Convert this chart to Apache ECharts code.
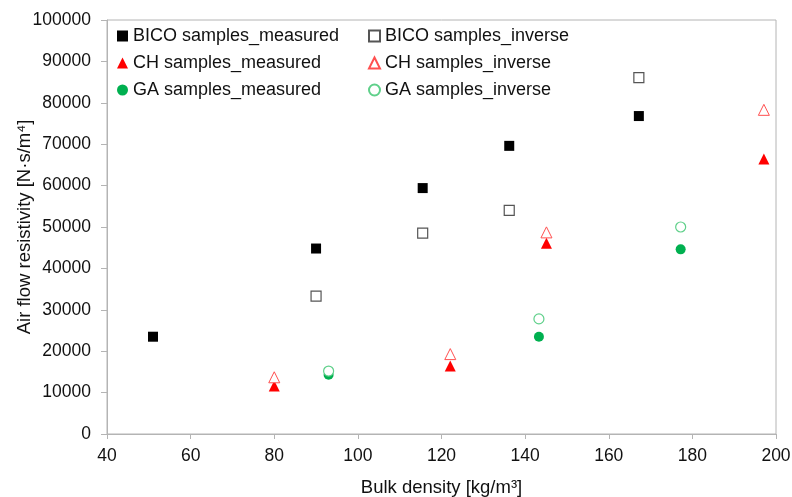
<!DOCTYPE html>
<html>
<head>
<meta charset="utf-8">
<script src="https://cdn.jsdelivr.net/npm/echarts@6/dist/echarts.min.js"></script>
<style>html,body{margin:0;padding:0;background:#fff}#c{width:792px;height:497px}</style>
</head>
<body>
<div id="c"></div>
<script>
const bicoMeasured = [[51, 23500], [90, 44800], [115.5, 59400], [136.2, 69600], [167.2, 76800]];
const bicoInverse  = [[90, 33300], [115.5, 48500], [136.2, 54000], [167.2, 86100]];
const chMeasured   = [[80, 11600], [122.1, 16400], [145.1, 46100], [197.1, 66400]];
const chInverse    = [[80, 13700], [122.1, 19300], [145.1, 48700], [197.1, 78300]];
const gaMeasured   = [[93, 14300], [143.3, 23500], [177.2, 44600]];
const gaInverse    = [[93, 15200], [143.3, 27800], [177.2, 50000]];
const xTicks = [40, 60, 80, 100, 120, 140, 160, 180, 200];
const yTicks = [0, 10000, 20000, 30000, 40000, 50000, 60000, 70000, 80000, 90000, 100000];

const FONT = 'Liberation Sans, Arial, sans-serif';
const axisGray = '#b4b4b4';
const chart = echarts.init(document.getElementById('c'), null, {renderer: 'canvas'});

function ser(name, data, symbol, size, fill, border, bw) {
  return {
    name, type: 'scatter', data, symbol, symbolSize: size,
    itemStyle: {color: fill, borderColor: border, borderWidth: bw, opacity: 1},
    emphasis: {disabled: true}
  };
}

const legendText = {fontFamily: FONT, fontSize: 18, color: '#111'};
chart.setOption({
  animation: false,
  backgroundColor: '#fff',
  grid: {left: 107, right: 16, top: 20, bottom: 63, containLabel: false, outerBoundsMode: 'none',
         show: true, borderColor: axisGray, borderWidth: 1, backgroundColor: 'transparent'},
  legend: [
    {data: ['BICO samples_measured', 'CH samples_measured', 'GA samples_measured'],
     orient: 'vertical', left: 112, top: 22, itemWidth: 11, itemHeight: 11, itemGap: 9,
     textStyle: legendText, selectedMode: false},
    {data: ['BICO samples_inverse', 'CH samples_inverse', 'GA samples_inverse'],
     orient: 'vertical', left: 363, top: 22, itemWidth: 11, itemHeight: 11, itemGap: 9,
     textStyle: legendText, selectedMode: false}
  ],
  xAxis: {
    type: 'value', min: xTicks[0], max: xTicks[xTicks.length - 1], interval: 20,
    name: 'Bulk density [kg/m³]', nameLocation: 'middle', nameGap: 44, nameMoveOverlap: false,
    nameTextStyle: {fontFamily: FONT, fontSize: 18.5, color: '#111'},
    axisLine: {show: true, lineStyle: {color: axisGray}},
    axisTick: {show: true, length: 5, lineStyle: {color: axisGray}},
    axisLabel: {fontFamily: FONT, fontSize: 17.5, color: '#111', margin: 13},
    splitLine: {show: false}
  },
  yAxis: {
    type: 'value', min: yTicks[0], max: yTicks[yTicks.length - 1], interval: 10000,
    name: 'Air flow resistivity [N·s/m⁴]', nameLocation: 'middle', nameGap: 73, nameMoveOverlap: false,
    nameTextStyle: {fontFamily: FONT, fontSize: 18.5, color: '#111'},
    axisLine: {show: true, lineStyle: {color: axisGray}},
    axisTick: {show: true, length: 6, lineStyle: {color: axisGray}},
    axisLabel: {fontFamily: FONT, fontSize: 17.5, color: '#111', margin: 16, formatter: v => String(v)},
    splitLine: {show: false}
  },
  series: [
    ser('BICO samples_measured', bicoMeasured, 'rect', 10, '#000', '#000', 0),
    ser('BICO samples_inverse', bicoInverse, 'rect', 10, '#fff', '#555', 1.2),
    ser('CH samples_measured', chMeasured, 'triangle', 11, '#ff0000', '#ff0000', 0),
    ser('CH samples_inverse', chInverse, 'triangle', 11, '#fff', '#ff5050', 1),
    ser('GA samples_measured', gaMeasured, 'circle', 10, '#00b050', '#00b050', 0),
    ser('GA samples_inverse', gaInverse, 'circle', 10, '#fff', '#5fd08a', 1.2)
  ]
});
</script>
</body>
</html>
